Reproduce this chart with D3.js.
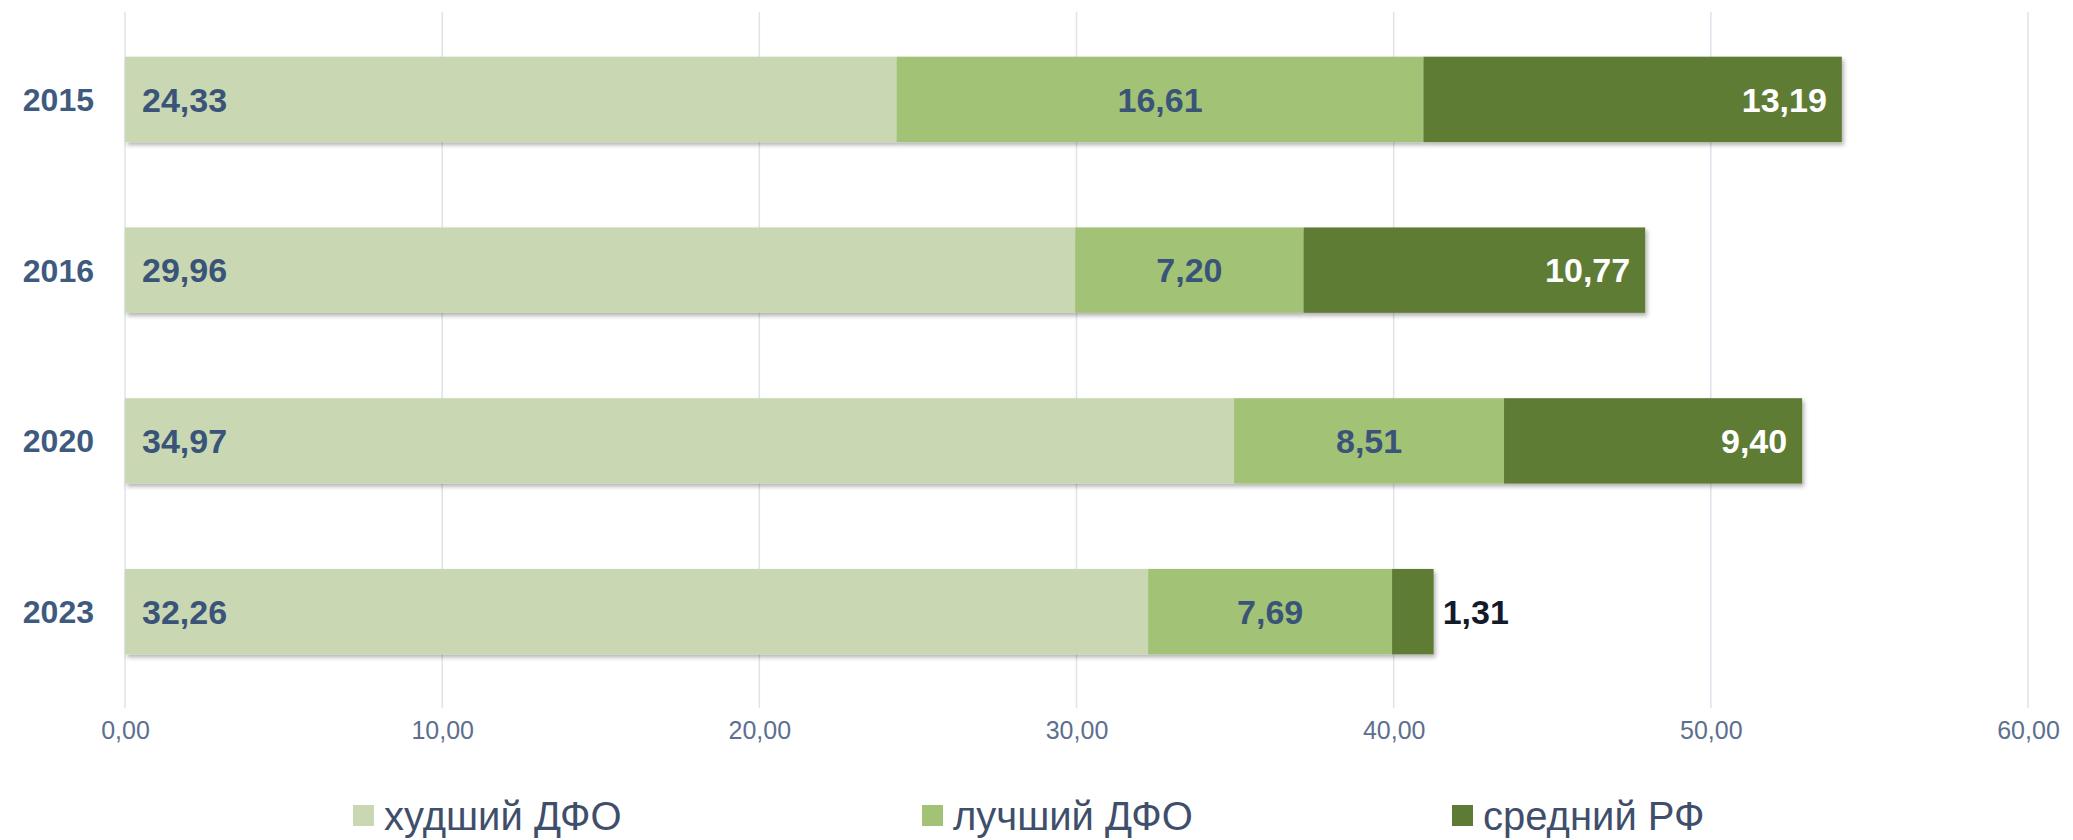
<!DOCTYPE html>
<html lang="ru">
  <head>
    <meta charset="utf-8">
    <script src="https://d3js.org/d3.v7.min.js"></script>
    <style>
      body { margin: 0; background: #fff; }
      text { font-family: "Liberation Sans", Arial, sans-serif; }
    </style>
  </head>
  <body>
    <script>

    // Data
    var years = ["2015", "2016", "2020", "2023"];
    var worstDFO = [24.33, 29.96, 34.97, 32.26];
    var bestDFO = [16.61, 7.20, 8.51, 7.69];
    var avgRF = [13.19, 10.77, 9.40, 1.31];
    var seriesNames = ["худший ДФО", "лучший ДФО", "средний РФ"];
    var xTicks = [0, 10, 20, 30, 40, 50, 60];

    var colors = ["#c9d8b3", "#a2c276", "#5e7b35"];

    var W = 2073, H = 840;
    var x0 = 125, x1 = 2028;

    var fmt = function(v) { return v.toFixed(2).replace(".", ","); };

    var svg = d3.select("body").append("svg")
        .attr("width", W)
        .attr("height", H);

    // Shadow for the bars
    svg.append("defs").append("filter")
        .attr("id", "shadow")
        .attr("x", "-5%").attr("y", "-20%")
        .attr("width", "110%").attr("height", "150%")
      .append("feDropShadow")
        .attr("dx", 2).attr("dy", 3)
        .attr("stdDeviation", 2)
        .attr("flood-color", "#000")
        .attr("flood-opacity", 0.3);

    // Scales
    var xScale = d3.scaleLinear()
        .domain([0, 60])
        .range([x0, x1]);

    var yScale = d3.scaleBand()
        .domain(years)
        .range([14, 697])
        .paddingInner(0.5)
        .paddingOuter(0.25);

    // Gridlines
    svg.append("g").selectAll("line")
        .data(xTicks)
        .enter()
        .append("line")
          .attr("x1", function(d) { return xScale(d); })
          .attr("x2", function(d) { return xScale(d); })
          .attr("y1", 12)
          .attr("y2", 708)
          .attr("stroke", "#dfe3ea")
          .attr("stroke-width", 1.5);

    // X axis labels
    var xAxis = d3.axisBottom(xScale)
        .tickValues(xTicks)
        .tickFormat(fmt)
        .tickSize(0)
        .tickPadding(0);

    var axisG = svg.append("g")
        .attr("transform", "translate(0,720)")
        .call(xAxis);
    axisG.select(".domain").remove();
    axisG.selectAll("text")
        .attr("y", 19)
        .attr("dy", 0)
        .attr("fill", "#5d6f8e")
        .style("font-size", "25px")
        .style("font-family", "'Liberation Sans', Arial, sans-serif");

    // Stack the series
    var rows = years.map(function(y, i) {
      return { year: y, s0: worstDFO[i], s1: bestDFO[i], s2: avgRF[i] };
    });
    var stacked = d3.stack().keys(["s0", "s1", "s2"])(rows);

    // Bars
    var barG = svg.append("g").attr("filter", "url(#shadow)");
    stacked.forEach(function(layer, k) {
      barG.selectAll(".bar" + k)
          .data(layer)
          .enter()
          .append("rect")
            .attr("class", "bar" + k)
            .attr("x", function(d) { return xScale(d[0]); })
            .attr("y", function(d) { return yScale(d.data.year); })
            .attr("width", function(d) { return xScale(d[1]) - xScale(d[0]); })
            .attr("height", yScale.bandwidth())
            .attr("fill", colors[k]);
    });

    // Year labels
    svg.append("g").selectAll("text")
        .data(years)
        .enter()
        .append("text")
          .attr("x", 94)
          .attr("y", function(d) { return yScale(d) + yScale.bandwidth() / 2; })
          .attr("dy", "0.36em")
          .attr("text-anchor", "end")
          .attr("fill", "#3e5a7e")
          .style("font-size", "32px")
          .style("font-weight", "bold")
          .text(function(d) { return d; });

    // Value labels
    var labG = svg.append("g");
    stacked.forEach(function(layer, k) {
      labG.selectAll(".lab" + k)
          .data(layer)
          .enter()
          .append("text")
            .attr("class", "lab" + k)
            .attr("x", function(d) {
              if (k === 0) return xScale(d[0]) + 17;
              if (k === 1) return (xScale(d[0]) + xScale(d[1])) / 2;
              if (d[1] - d[0] < 3) return xScale(d[1]) + 9;
              return xScale(d[1]) - 15;
            })
            .attr("y", function(d) { return yScale(d.data.year) + yScale.bandwidth() / 2; })
            .attr("dy", "0.36em")
            .attr("text-anchor", function(d) {
              if (k === 0) return "start";
              if (k === 1) return "middle";
              return (d[1] - d[0] < 3) ? "start" : "end";
            })
            .attr("fill", function(d) {
              if (k < 2) return "#3a5479";
              return (d[1] - d[0] < 3) ? "#141a2a" : "#ffffff";
            })
            .style("font-size", "34px")
            .style("font-weight", "bold")
            .text(function(d) { return fmt(d[1] - d[0]); });
    });

    // Legend
    var legendX = [353, 922, 1452];
    var legend = svg.append("g").selectAll("g")
        .data(seriesNames)
        .enter()
        .append("g")
          .attr("transform", function(d, i) { return "translate(" + legendX[i] + ",805)"; });

    legend.append("rect")
        .attr("width", 21)
        .attr("height", 21)
        .attr("fill", function(d, i) { return colors[i]; });

    legend.append("text")
        .attr("x", 31)
        .attr("y", 25)
        .attr("fill", "#3f4f6b")
        .style("font-size", "40px")
        .text(function(d) { return d; });

    </script>
  </body>
</html>
